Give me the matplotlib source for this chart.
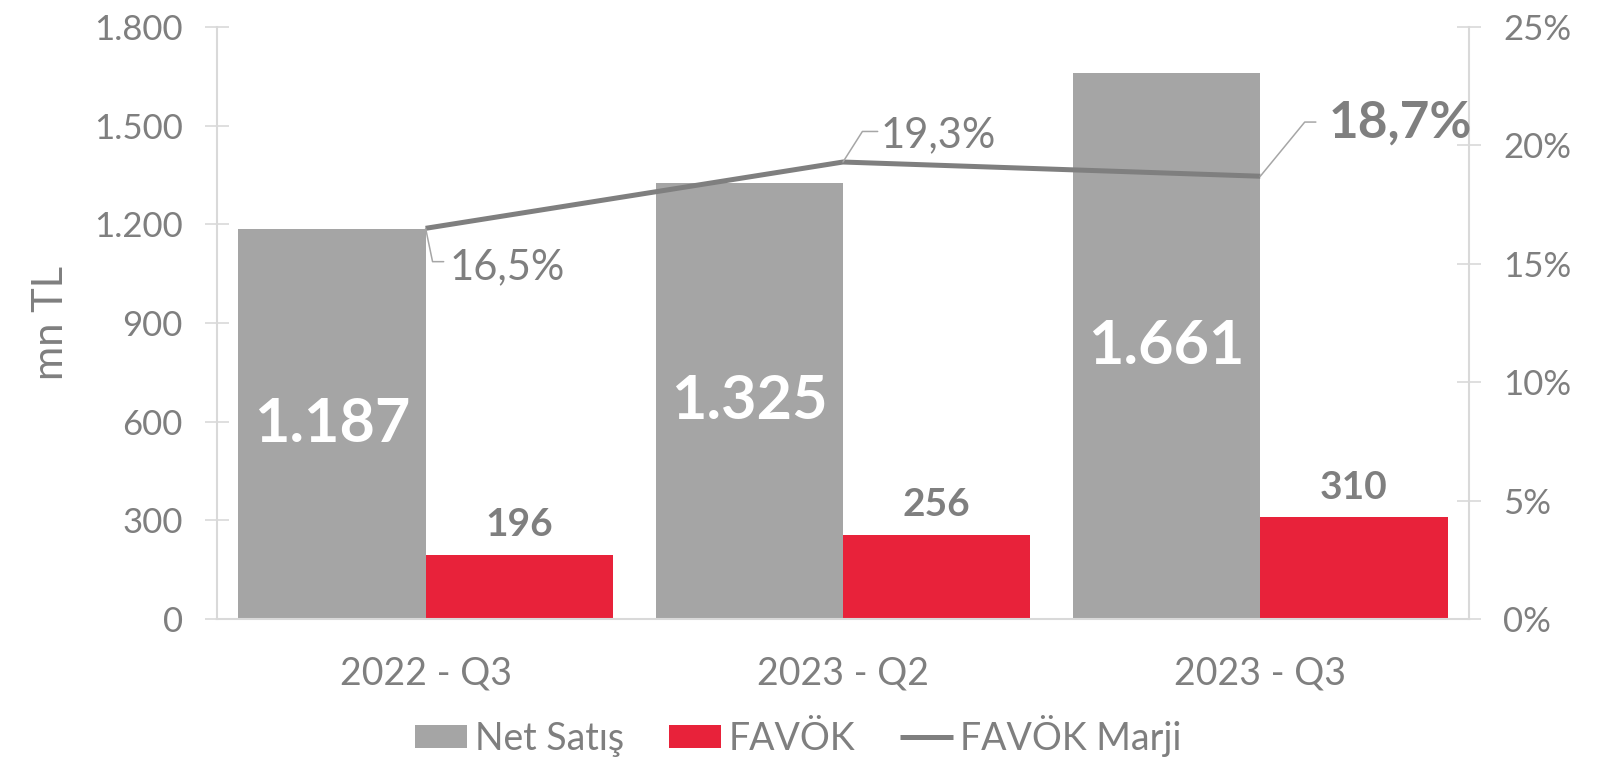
import matplotlib
matplotlib.use('Agg')
import matplotlib.pyplot as plt
import numpy as np

# data
categories = ['2022 - Q3', '2023 - Q2', '2023 - Q3']
net_satis = [1187, 1325, 1661]
favok = [196, 256, 310]
favok_marji = [16.5, 19.3, 18.7]
left_ticks = [0, 300, 600, 900, 1200, 1500, 1800]
right_ticks = [0, 5, 10, 15, 20, 25]

GRAY = '#a5a5a5'
RED = '#e8223a'
TEXT = '#7f7f7f'
AXIS = '#d9d9d9'

plt.rcParams['font.family'] = ['Lato', 'DejaVu Sans']


def tr(v):
    # 1187 -> '1.187'
    return f'{v:,.0f}'.replace(',', '.')


fig = plt.figure(figsize=(16.07, 7.60), dpi=100)
ax = fig.add_axes([0.1350, 0.1855, 0.7791, 0.7789])
ax2 = ax.twinx()

x = np.arange(len(categories))
w = 0.449
b1 = ax.bar(x - w / 2, net_satis, w, color=GRAY, label='Net Satış', zorder=2)
b2 = ax.bar(x + w / 2, favok, w, color=RED, label='FAVÖK', zorder=2)
ln, = ax2.plot(x, favok_marji, color=TEXT, lw=3.6, solid_capstyle='butt',
               label='FAVÖK Marji')

ax.bar_label(b1, labels=[tr(v) for v in net_satis], label_type='center',
             color='white', fontsize=44, fontweight='bold')
ax.bar_label(b2, labels=[tr(v) for v in favok], padding=9,
             color=TEXT, fontsize=28, fontweight='bold')

ax.set_xlim(-0.5, len(categories) - 0.5)
ax.set_ylim(0, 1800)
ax2.set_ylim(0, 25)

ax.set_xticks(x)
ax.set_xticklabels(categories)
ax.set_yticks(left_ticks)
ax.set_yticklabels([tr(v) for v in left_ticks])
ax2.set_yticks(right_ticks)
ax2.set_yticklabels([f'{v}%' for v in right_ticks])

for a in (ax, ax2):
    for s in a.spines.values():
        s.set_visible(False)
    a.tick_params(axis='y', direction='inout', length=17, width=1.2,
                  color=AXIS, labelcolor=TEXT, labelsize=25, pad=16)
ax.spines['left'].set_visible(True)
ax.spines['left'].set_color(AXIS)
ax.spines['left'].set_linewidth(1.5)
ax.spines['bottom'].set_visible(True)
ax.spines['bottom'].set_color(AXIS)
ax.spines['bottom'].set_linewidth(1.5)
ax2.spines['right'].set_visible(True)
ax2.spines['right'].set_color(AXIS)
ax2.spines['right'].set_linewidth(1.5)
ax.tick_params(axis='x', length=0, pad=26, labelsize=27, labelcolor=TEXT)

ax.set_ylabel('mn TL', fontsize=30, color=TEXT, va='center')
ax.yaxis.set_label_coords(-0.1326, 0.5)

# margin labels with leader lines (offsets in points)
lab_cfg = [
    dict(corner=(5, -24), tail=(13, -24), txt=(17, -28), size=30, weight='normal'),
    dict(corner=(14, 22), tail=(25, 22), txt=(27, 19), size=30, weight='normal'),
    dict(corner=(32, 39), tail=(40, 39), txt=(49, 38), size=37, weight='bold'),
]
for xi, v, c in zip(x, favok_marji, lab_cfg):
    ax2.annotate('', xy=(xi, v), xytext=c['tail'], textcoords='offset points',
                 arrowprops=dict(arrowstyle='-', color='#a6a6a6', lw=1.1,
                                 shrinkA=0, shrinkB=0,
                                 connectionstyle='angle,angleA=0,angleB=%g,rad=0'
                                 % np.degrees(np.arctan2(c['corner'][1], c['corner'][0]))))
    ax2.annotate(f'{v:.1f}%'.replace('.', ','), xy=(xi, v), xytext=c['txt'],
                 textcoords='offset points', ha='left', va='center',
                 fontsize=c['size'], fontweight=c['weight'], color=TEXT)

handles = [b1, b2, ln]
fig.legend(handles, [h.get_label() for h in handles], loc='center',
           bbox_to_anchor=(0.4967, 0.032), ncol=3, frameon=False,
           fontsize=27, labelcolor=TEXT, handlelength=1.4, handleheight=0.6,
           handletextpad=0.2, columnspacing=1.2)

fig.savefig('out.png', dpi=100)
